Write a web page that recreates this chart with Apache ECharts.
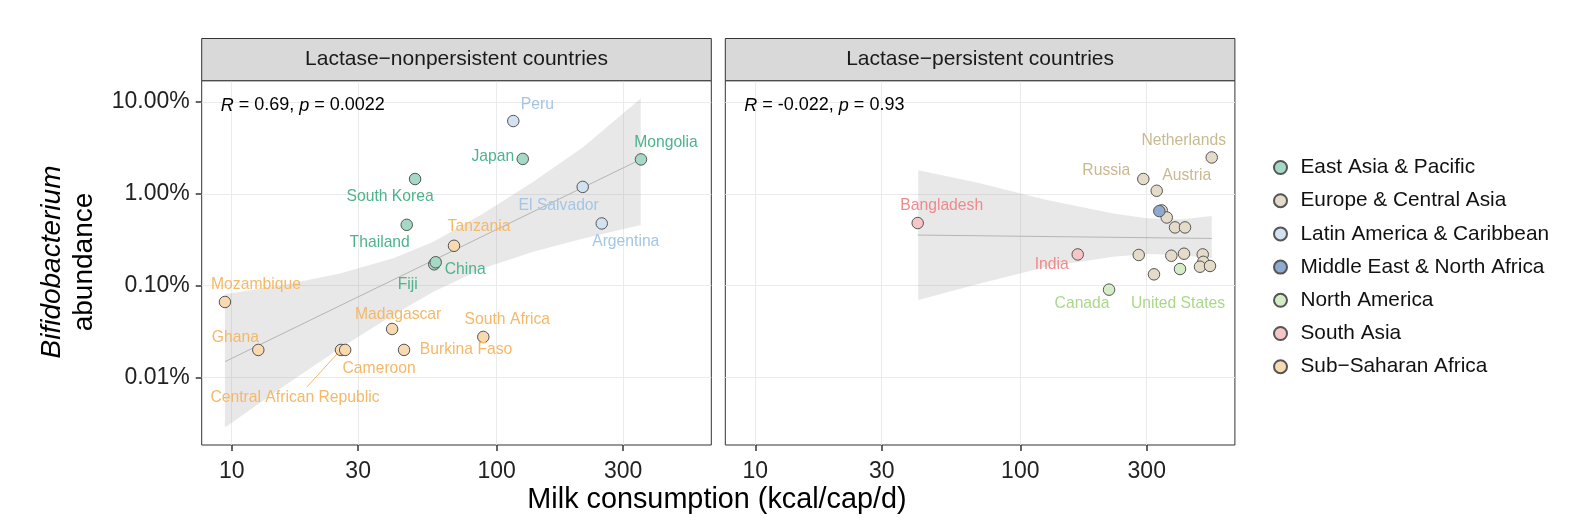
<!DOCTYPE html>
<html>
<head>
<meta charset="utf-8">
<script src="https://cdn.jsdelivr.net/npm/echarts@6/dist/echarts.min.js"></script>
<style>
html, body { margin: 0; padding: 0; background: #fff; }
#main { width: 1590px; height: 530px; }
</style>
</head>
<body>
<div id="main"></div>
<script>
// regions (legend order)
var regions = ['East Asia & Pacific', 'Europe & Central Asia', 'Latin America & Caribbean',
    'Middle East & North Africa', 'North America', 'South Asia', 'Sub\u2212Saharan Africa'];

// lactase-nonpersistent countries
var npCountries = ['Peru', 'Japan', 'Mongolia', 'South Korea', 'El Salvador', 'Argentina', 'Thailand',
    'Tanzania', 'China', 'Fiji', 'Mozambique', 'Madagascar', 'South Africa', 'Ghana',
    'Central African Republic', 'Cameroon', 'Burkina Faso'];
var npMilk = [115.5, 125.4, 350.3, 49.2, 211.1, 249.1, 45.75, 69.0, 58.1, 58.85, 9.43, 40.3, 89.0, 12.6, 25.85, 26.8, 44.7];
var npAbund = [6.2, 2.40, 2.37, 1.45, 1.19, 0.476, 0.46, 0.272, 0.171, 0.18, 0.0665, 0.0338, 0.0277, 0.02, 0.02, 0.02, 0.02];
var npRegion = [2, 0, 0, 0, 2, 2, 0, 6, 0, 0, 6, 6, 6, 6, 6, 6, 6];

// lactase-persistent countries ('' = not labelled)
var pCountries = ['Bangladesh', 'Netherlands', 'Russia', 'Austria', '', '', '', '', '', 'India',
    '', '', '', '', '', '', '', 'United States', '', 'Canada'];
var pMilk = [41.0, 527.7, 291.2, 327.1, 334.6, 341.7, 356.9, 383.6, 418.3, 164.7, 279.8, 371.4, 414.7, 487.9,
    490.4, 476.5, 519.8, 400.5, 319.5, 216.2];
var pAbund = [0.481, 2.49, 1.45, 1.08, 0.649, 0.66, 0.553, 0.431, 0.431, 0.219, 0.216, 0.212, 0.223, 0.219,
    0.182, 0.161, 0.164, 0.152, 0.133, 0.0906];
var pRegion = [5, 1, 1, 1, 3, 1, 1, 1, 1, 5, 1, 1, 1, 1, 1, 1, 1, 4, 1, 4];

// fitted line + confidence band (log-log)
var npLineX = [9.43, 350.3], npLineY = [0.0149, 2.38];
var npBandX = [9.43, 15.66, 25.6, 40.7, 57.7, 89.0, 137.4, 212.3, 349.5];
var npBandHi = [0.0805, 0.102, 0.136, 0.199, 0.301, 0.612, 1.35, 3.24, 10.9];
var npBandLo = [0.00286, 0.00798, 0.0209, 0.0481, 0.0861, 0.155, 0.234, 0.327, 0.457];
var pLineX = [41.0, 527.7], pLineY = [0.356, 0.327];
var pBandX = [41.2, 70.5, 125.8, 224.4, 300, 400.5, 527.7];
var pBandHi = [1.81, 1.30, 0.855, 0.612, 0.541, 0.527, 0.573];
var pBandLo = [0.070, 0.106, 0.161, 0.207, 0.221, 0.216, 0.199];

var xTicks = [10, 30, 100, 300];
var yTicks = [0.01, 0.1, 1, 10];
var panelTitles = ['Lactase\u2212nonpersistent countries', 'Lactase\u2212persistent countries'];
var statLabels = ['{i|R} = 0.69, {i|p} = 0.0022', '{i|R} = -0.022, {i|p} = 0.93'];

// styling
var FONT = '"Liberation Sans", Arial, Helvetica, sans-serif';
var textColors = ['#4CB38C', '#C9B98F', '#A3C6E6', '#5C86BD', '#A9D88A', '#EF8A8C', '#F5B867'];
var fillColors = ['#A5D9C5', '#E4DCC8', '#D3E2F1', '#8EAAD0', '#D5EDC6', '#F6C5C7', '#F9D9AF'];
var labelShift = {
    'Peru': [24, -16], 'Japan': [-30, -2], 'Mongolia': [25, -17], 'South Korea': [-25, 18],
    'El Salvador': [-24, 19], 'Argentina': [24, 18], 'Thailand': [-27, 18], 'Tanzania': [25, -19],
    'China': [31, 5], 'Fiji': [-28, 22], 'Mozambique': [31, -17], 'Madagascar': [6, -14],
    'South Africa': [24, -17], 'Ghana': [-23, -12], 'Cameroon': [34, 19], 'Burkina Faso': [62, 0],
    'Central African Republic': [-46, 48],
    'Bangladesh': [24, -17], 'Russia': [-37, -8], 'Austria': [30, -15], 'Netherlands': [-28, -17],
    'India': [-26, 10], 'Canada': [-27, 14], 'United States': [-2, 35]
};

var LEFTS = [201.7, 725.3], W = 509.6, TOP = 80.7, H = 364.3;
var xMin = 7.705, xMax = 645.3, yMin = 0.001846, yMax = 17.04;

var chart = echarts.init(document.getElementById('main'));

function bandRender(xs, lo, hi) {
    return function (params, api) {
        if (params.dataIndex !== 0) return;
        var pts = [];
        for (var k = 0; k < xs.length; k++) pts.push(api.coord([xs[k], hi[k]]));
        for (var k = xs.length - 1; k >= 0; k--) pts.push(api.coord([xs[k], lo[k]]));
        return { type: 'polygon', shape: { points: pts }, style: { fill: 'rgba(150,150,150,0.22)' } };
    };
}

var panels = [
    { names: npCountries, milk: npMilk, abund: npAbund, region: npRegion,
      lineX: npLineX, lineY: npLineY, bandX: npBandX, bandLo: npBandLo, bandHi: npBandHi },
    { names: pCountries, milk: pMilk, abund: pAbund, region: pRegion,
      lineX: pLineX, lineY: pLineY, bandX: pBandX, bandLo: pBandLo, bandHi: pBandHi }
];

var grids = [], xAxes = [], yAxes = [], series = [], graphics = [];

panels.forEach(function (pn, i) {
    grids.push({ left: LEFTS[i], top: TOP, width: W, height: H, show: true,
        borderColor: '#333', borderWidth: 1, backgroundColor: 'transparent', containLabel: false });
    xAxes.push({
        type: 'log', gridIndex: i, min: xMin, max: xMax,
        axisLine: { show: false },
        axisTick: { show: true, customValues: xTicks, length: 6, lineStyle: { color: '#333', width: 1.5 } },
        axisLabel: { customValues: xTicks, fontSize: 23, color: '#222', fontFamily: FONT, margin: 15,
            formatter: function (v) { return String(Math.round(v)); } },
        splitLine: { show: false }, minorTick: { show: false }, minorSplitLine: { show: false }
    });
    yAxes.push({
        type: 'log', gridIndex: i, min: yMin, max: yMax,
        axisLine: { show: false },
        axisTick: { show: i === 0, customValues: yTicks, length: 6, lineStyle: { color: '#333', width: 1.5 } },
        axisLabel: { show: i === 0, customValues: yTicks, fontSize: 23, color: '#222', fontFamily: FONT, margin: 12,
            formatter: function (v) { return v.toFixed(2) + '%'; } },
        splitLine: { show: false }, minorTick: { show: false }, minorSplitLine: { show: false }
    });

    // band
    series.push({
        type: 'custom', xAxisIndex: i, yAxisIndex: i, z: 2, silent: true,
        renderItem: bandRender(pn.bandX, pn.bandLo, pn.bandHi),
        data: pn.bandX.map(function (x, k) { return [x, pn.bandLo[k], pn.bandHi[k]]; }),
        markLine: {
            silent: true, z: 1, symbol: ['none', 'none'], label: { show: false }, animation: false,
            lineStyle: { color: '#EBEBEB', width: 1, type: 'solid' },
            emphasis: { disabled: true },
            data: xTicks.map(function (v) { return { xAxis: v }; })
                .concat(yTicks.map(function (v) { return { yAxis: v }; }))
        }
    });
    // fitted line
    series.push({
        type: 'line', xAxisIndex: i, yAxisIndex: i, z: 3, silent: true, symbol: 'none',
        lineStyle: { color: '#B5B5B5', width: 1 },
        data: pn.lineX.map(function (x, k) { return [x, pn.lineY[k]]; })
    });
    // points, one series per region
    regions.forEach(function (rname, r) {
        var items = [];
        pn.names.forEach(function (nm, k) {
            if (pn.region[k] !== r) return;
            items.push({ name: nm, value: [pn.milk[k], pn.abund[k]], label: { show: nm !== '' } });
        });
        if (!items.length) return;
        series.push({
            type: 'scatter', name: rname, xAxisIndex: i, yAxisIndex: i, z: 4,
            symbol: 'circle', symbolSize: 11.5,
            itemStyle: { color: fillColors[r], borderColor: '#555', borderWidth: 1, opacity: 1 },
            label: { show: true, position: 'inside', formatter: '{b}', color: textColors[r],
                fontSize: 15.7, fontFamily: FONT },
            labelLayout: function (p) {
                var s = labelShift[p.text] || [0, 0];
                return { dx: s[0], dy: s[1] };
            },
            emphasis: { disabled: true },
            data: items
        });
    });

    // strip header
    graphics.push({ type: 'rect', shape: { x: LEFTS[i], y: 38.5, width: W, height: 42.2 },
        style: { fill: '#D9D9D9', stroke: '#333', lineWidth: 1 }, z: 10 });
    graphics.push({ type: 'text', x: LEFTS[i] + W / 2, y: 59.6, z: 11,
        style: { text: panelTitles[i], fontSize: 21, fontFamily: FONT, fill: '#1a1a1a',
            align: 'center', verticalAlign: 'middle' } });
    graphics.push({ type: 'text', x: LEFTS[i] + 19, y: 105.5, z: 11,
        style: { text: statLabels[i], fontSize: 18, fontFamily: FONT, fill: '#000',
            align: 'left', verticalAlign: 'middle',
            rich: { i: { fontStyle: 'italic', fontSize: 18, fontFamily: FONT, fill: '#000' } } } });
});

// axis titles
graphics.push({ type: 'text', x: 717, y: 500, z: 11,
    style: { text: 'Milk consumption (kcal/cap/d)', fontSize: 28.8, fontFamily: FONT, fill: '#000',
        align: 'center', verticalAlign: 'middle' } });
graphics.push({ type: 'text', x: 52, y: 262, rotation: Math.PI / 2, z: 11,
    style: { text: 'Bifidobacterium', fontSize: 28, fontStyle: 'italic', fontFamily: FONT, fill: '#000',
        align: 'center', verticalAlign: 'middle' } });
graphics.push({ type: 'text', x: 84, y: 262, rotation: Math.PI / 2, z: 11,
    style: { text: 'abundance', fontSize: 28, fontFamily: FONT, fill: '#000',
        align: 'center', verticalAlign: 'middle' } });

chart.setOption({
    animation: false,
    backgroundColor: '#fff',
    grid: grids,
    xAxis: xAxes,
    yAxis: yAxes,
    legend: {
        orient: 'vertical', left: 1273, top: 157, padding: 0, itemWidth: 30, itemHeight: 13, itemGap: 12.2,
        icon: 'circle', selectedMode: false, data: regions,
        textStyle: { fontSize: 20.8, lineHeight: 20, color: '#111', fontFamily: FONT }
    },
    graphic: graphics,
    series: series
});

// leader line for the Central African Republic label
var carIdx = npCountries.indexOf('Central African Republic');
var carPt = chart.convertToPixel({ gridIndex: 0 }, [npMilk[carIdx], npAbund[carIdx]]);
graphics.push({ type: 'line', z: 11, silent: true,
    shape: { x1: carPt[0] - 3, y1: carPt[1] + 3, x2: carPt[0] - 34, y2: carPt[1] + 37 },
    style: { stroke: textColors[6], lineWidth: 1 } });
chart.setOption({ graphic: graphics });
</script>
</body>
</html>
